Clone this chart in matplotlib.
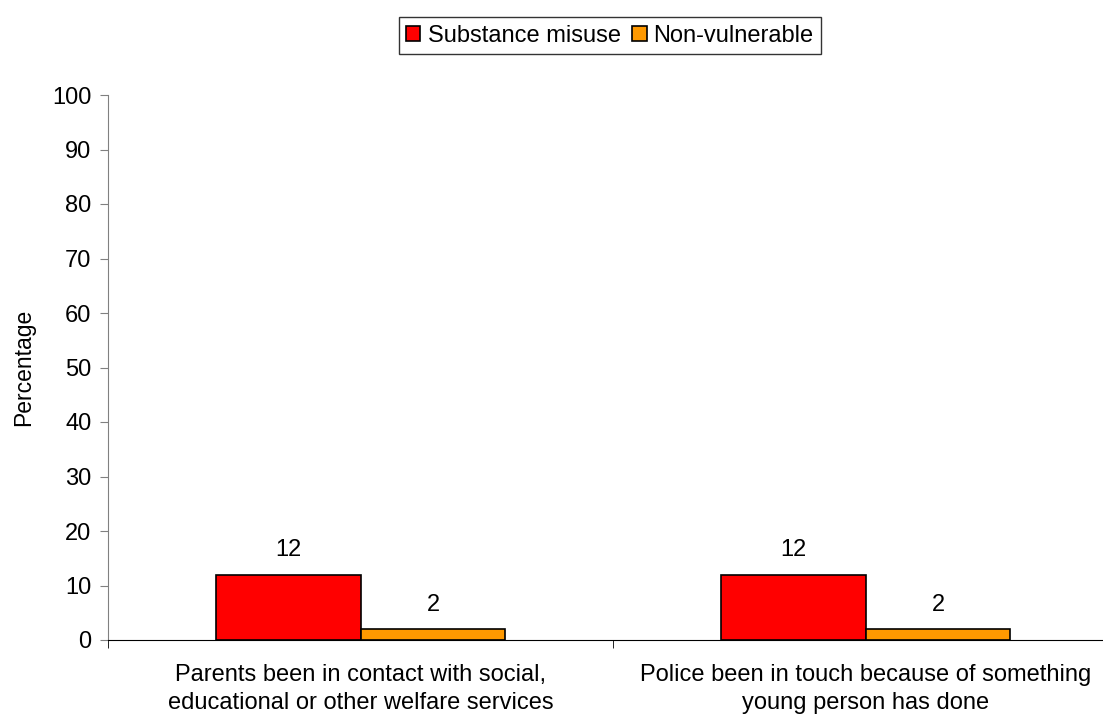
import matplotlib
matplotlib.use("Agg")
import matplotlib.pyplot as plt
import numpy as np

categories = ["Parents been in contact with social,\neducational or other welfare services",
              "Police been in touch because of something\nyoung person has done"]
series_names = ["Substance misuse", "Non-vulnerable"]
substance = [12, 12]
nonvuln = [2, 2]
colors = ["#FF0000", "#FF9900"]
yticks = list(range(0, 101, 10))

plt.rcParams['font.family'] = ['Liberation Sans', 'DejaVu Sans']
FS = 17

fig = plt.figure(figsize=(11.03, 7.17), dpi=100)
ax = fig.add_axes([108/1103, 1-640/717, (1118-108)/1103, (640-95)/717])

x = np.arange(len(categories))
w = 0.287
b1 = ax.bar(x - w/2, substance, w, color=colors[0], edgecolor="black", linewidth=1.2, label=series_names[0])
b2 = ax.bar(x + w/2, nonvuln, w, color=colors[1], edgecolor="black", linewidth=1.2, label=series_names[1])
for bars, vals in ((b1, substance), (b2, nonvuln)):
    for r, v in zip(bars, vals):
        ax.annotate(str(v), (r.get_x() + r.get_width()/2, v), xytext=(0, 9.5),
                    textcoords="offset points", ha="center", va="bottom", fontsize=FS)

ax.set_xlim(-0.5, len(categories) - 0.5)
ax.set_ylim(0, 100)
ax.set_yticks(yticks)
ax.tick_params(axis='y', direction='out', length=6, color='#808080', labelsize=FS, pad=6)
ax.set_xticks(x)
ax.set_xticklabels(categories, fontsize=FS, linespacing=1.38)
ax.tick_params(axis='x', which='major', length=0, pad=17)
ax.set_xticks(np.arange(-0.5, len(categories), 1.0), minor=True)
ax.tick_params(axis='x', which='minor', direction='out', length=6, color='black')
for s in ('top', 'right'):
    ax.spines[s].set_visible(False)
ax.spines['left'].set_color('#808080')
ax.spines['bottom'].set_color('black')
ax.set_ylabel("Percentage", fontsize=16.5, labelpad=12)

leg = fig.legend(loc='center', bbox_to_anchor=(610/1103, 1-35.5/717), ncol=2, fontsize=FS,
                 frameon=True, fancybox=False, edgecolor='black', handlelength=0.6,
                 handleheight=0.6, handletextpad=0.3, columnspacing=0.5, borderpad=0.3)
leg.get_frame().set_linewidth(1.0)

fig.savefig("out.png", dpi=100)
